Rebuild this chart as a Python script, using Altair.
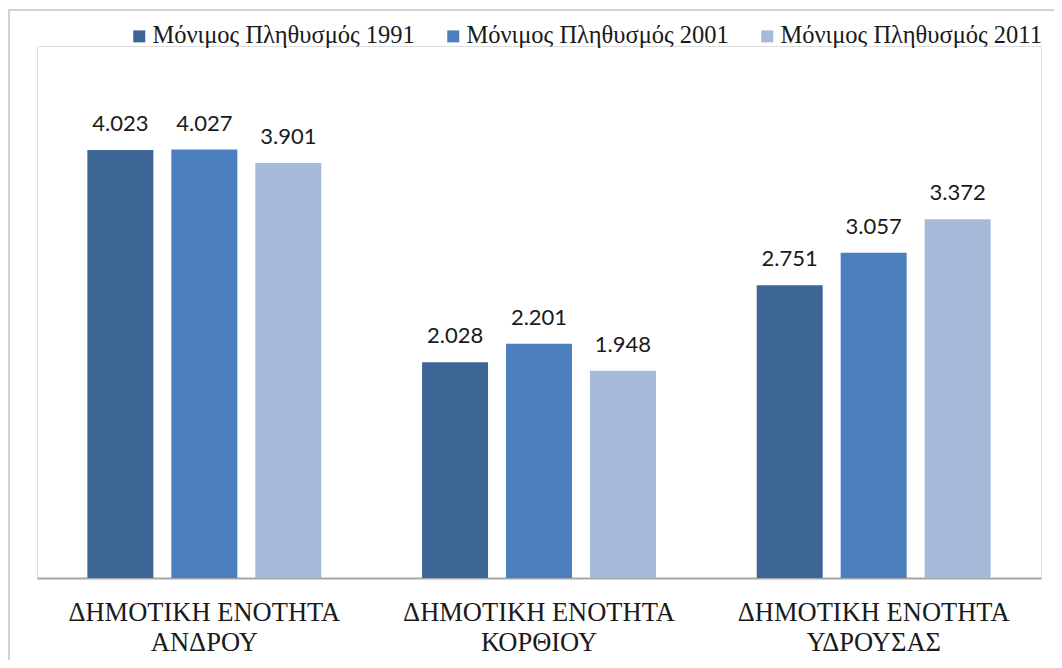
import altair as alt
import pandas as pd

categories = ["ΔΗΜΟΤΙΚΗ ΕΝΟΤΗΤΑ ΑΝΔΡΟΥ", "ΔΗΜΟΤΙΚΗ ΕΝΟΤΗΤΑ ΚΟΡΘΙΟΥ", "ΔΗΜΟΤΙΚΗ ΕΝΟΤΗΤΑ ΥΔΡΟΥΣΑΣ"]
series = ["Μόνιμος Πληθυσμός 1991", "Μόνιμος Πληθυσμός 2001", "Μόνιμος Πληθυσμός 2011"]
pop_1991 = [4023, 2028, 2751]
pop_2001 = [4027, 2201, 3057]
pop_2011 = [3901, 1948, 3372]
colors = ["#3d6696", "#4c7fbd", "#a6b9d8"]
serif = "Liberation Serif, Times New Roman, DejaVu Serif, serif"

rows = []
for i, c in enumerate(categories):
    for s, vals in zip(series, [pop_1991, pop_2001, pop_2011]):
        rows.append({"category": c, "series": s, "value": vals[i]})
df = pd.DataFrame(rows)

x = alt.X("category:N", sort=categories, title=None,
          scale=alt.Scale(paddingInner=0, paddingOuter=0),
          axis=alt.Axis(labelAngle=0, ticks=False, domain=True, domainColor="#a6a6a6",
                        domainWidth=2, labelFont=serif, labelFontSize=26.5,
                        labelColor="#1a1a1a", labelPadding=21, labelLineHeight=30,
                        labelLimit=0,
                        labelExpr="[slice(datum.label, 0, 16), slice(datum.label, 17)]"))
xo = alt.XOffset("series:N", sort=series,
                 scale=alt.Scale(paddingInner=0.214, paddingOuter=0.6))
y = alt.Y("value:Q", title=None, scale=alt.Scale(domain=[0, 5000]), axis=None)

base = alt.Chart(df)

frame = base.mark_rect(fill=None, stroke="#c4c4c4", strokeWidth=1.5).encode(
    x=alt.value(-28), x2=alt.value(1040), y=alt.value(-36), y2=alt.value(700)
).transform_filter("datum.series == '" + series[0] + "' && datum.category == '" + categories[0] + "'")

bars = base.mark_bar().encode(
    x=x, xOffset=xo, y=y,
    color=alt.Color("series:N", sort=series,
                    scale=alt.Scale(domain=series, range=colors),
                    legend=alt.Legend(title=None, orient="none", direction="horizontal",
                                      legendX=90, legendY=-22, symbolType="square",
                                      symbolSize=144, symbolStrokeWidth=0,
                                      labelFont=serif, labelFontSize=24.5,
                                      labelColor="#1a1a1a", columnPadding=26,
                                      labelOffset=1, labelLimit=0)),
)

labels = base.mark_text(baseline="bottom", dy=-14, font="Lato", fontSize=22,
                        color="#1a1a1a").encode(
    x=x, xOffset=xo, y=y,
    text="label:N",
).transform_calculate(label="replace(format(datum.value, ','), ',', '.')")

chart = alt.layer(frame, bars, labels).properties(
    width=1004, height=532,
    autosize=alt.AutoSizeParams(type="none"),
    padding={"left": 29, "top": 38, "right": 13, "bottom": 82},
).configure_view(stroke=None).configure(background="white")

chart.save("out.html", embed_options={"renderer": "svg", "actions": False})
